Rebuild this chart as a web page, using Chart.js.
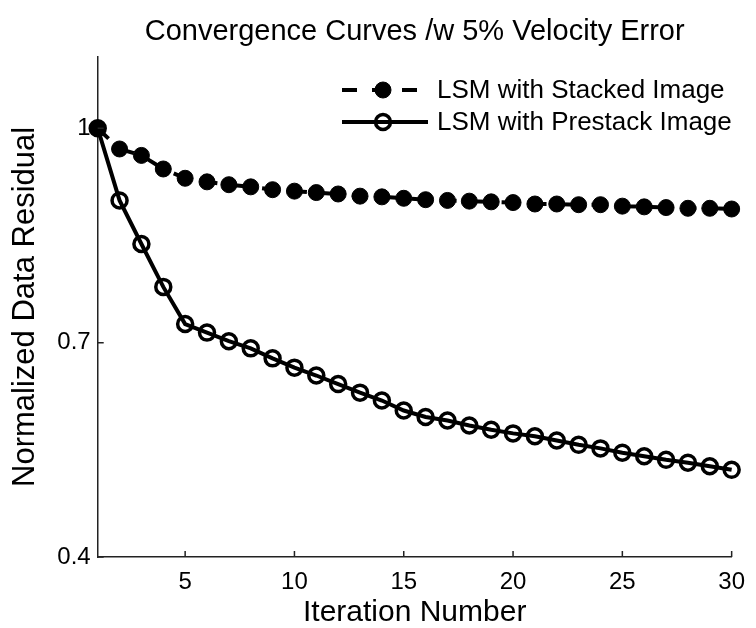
<!DOCTYPE html>
<html>
<head>
<meta charset="utf-8">
<script src="https://cdn.jsdelivr.net/npm/chart.js@4.4.0/dist/chart.umd.min.js"></script>
<style>
  html, body { margin: 0; padding: 0; background: #fff; }
  #wrap { width: 756px; height: 628px; }
</style>
</head>
<body>
<div id="wrap"><canvas id="convChart" width="756" height="628"></canvas></div>
<script>
// valores
const iterations = [1, 2, 3, 4, 5, 6, 7, 8, 9, 10, 11, 12, 13, 14, 15,
                    16, 17, 18, 19, 20, 21, 22, 23, 24, 25, 26, 27, 28, 29, 30];
const stackedResidual = [1.000, 0.971, 0.962, 0.943, 0.930, 0.925, 0.921, 0.918, 0.914, 0.912,
                         0.910, 0.908, 0.905, 0.904, 0.902, 0.900, 0.899, 0.898, 0.897, 0.896,
                         0.894, 0.894, 0.893, 0.893, 0.891, 0.890, 0.889, 0.888, 0.888, 0.887];
const prestackResidual = [1.000, 0.899, 0.838, 0.778, 0.726, 0.714, 0.702, 0.692, 0.678, 0.665,
                          0.654, 0.642, 0.630, 0.619, 0.605, 0.596, 0.591, 0.584, 0.578, 0.573,
                          0.569, 0.563, 0.557, 0.552, 0.546, 0.541, 0.536, 0.532, 0.527, 0.522];
const seriesNames = ['LSM with Stacked Image', 'LSM with Prestack Image'];
const xTicks = [5, 10, 15, 20, 25, 30];
const yTicks = [0.4, 0.7, 1];

const FONT = '"Liberation Sans", Arial, Helvetica, sans-serif';

function toPoints(ys) {
    return iterations.map((x, i) => ({ x: x, y: ys[i] }));
}

// ticks hacia adentro, estilo matlab
const inwardTicks = {
    id: 'inwardTicks',
    afterDraw(chart) {
        const ctx = chart.ctx;
        const xs = chart.scales.x, ys = chart.scales.y;
        ctx.save();
        ctx.strokeStyle = '#222';
        ctx.lineWidth = 1.5;
        ctx.beginPath();
        xTicks.forEach(v => {
            const px = xs.getPixelForValue(v);
            ctx.moveTo(px, ys.bottom);
            ctx.lineTo(px, ys.bottom - 6);
        });
        yTicks.forEach(v => {
            const py = ys.getPixelForValue(v);
            ctx.moveTo(xs.left, py);
            ctx.lineTo(xs.left + 6, py);
        });
        ctx.stroke();
        ctx.restore();
    }
};

// leyenda con linea + marcador (stacked arriba, prestack abajo)
const lineLegend = {
    id: 'lineLegend',
    afterDraw(chart) {
        const ctx = chart.ctx;
        const x0 = 342, x1 = 428;
        const rowOf = { [seriesNames[0]]: 90, [seriesNames[1]]: 122 };
        ctx.save();
        chart.data.datasets.forEach(ds => {
            const y = rowOf[ds.label];
            ctx.strokeStyle = '#000';
            ctx.lineWidth = ds.borderWidth;
            ctx.setLineDash(ds.borderDash || []);
            ctx.beginPath();
            ctx.moveTo(x0, y);
            ctx.lineTo(x1, y);
            ctx.stroke();
            ctx.setLineDash([]);
            const cx = (x0 + x1) / 2 - 2;
            ctx.beginPath();
            ctx.arc(cx, y, ds.pointRadius, 0, Math.PI * 2);
            if (ds.pointBackgroundColor !== 'transparent') {
                ctx.fillStyle = ds.pointBackgroundColor;
                ctx.fill();
            }
            ctx.lineWidth = ds.pointBorderWidth;
            ctx.stroke();
            ctx.fillStyle = '#000';
            ctx.font = '26px ' + FONT;
            ctx.textAlign = 'left';
            ctx.textBaseline = 'middle';
            ctx.fillText(ds.label, 437, y + 1);
        });
        ctx.restore();
    }
};

new Chart(document.getElementById('convChart'), {
    type: 'line',
    data: {
        datasets: [
            {
                label: seriesNames[1],
                data: toPoints(prestackResidual),
                borderColor: '#000',
                borderWidth: 4,
                pointRadius: 7.5,
                pointBorderWidth: 3.5,
                pointBorderColor: '#000',
                pointBackgroundColor: 'transparent',
                tension: 0
            },
            {
                label: seriesNames[0],
                data: toPoints(stackedResidual),
                borderColor: '#000',
                borderWidth: 4,
                borderDash: [15, 15],
                pointRadius: 8,
                pointBorderWidth: 1,
                pointBorderColor: '#000',
                pointBackgroundColor: '#000',
                tension: 0
            }
        ]
    },
    options: {
        responsive: false,
        animation: false,
        events: [],
        clip: false,
        layout: { padding: { left: 0, right: 16, top: 0, bottom: 0 } },
        plugins: {
            legend: { display: false },
            tooltip: { enabled: false },
            title: {
                display: true,
                fullSize: false,
                text: 'Convergence Curves /w 5% Velocity Error',
                color: '#000',
                font: { family: FONT, size: 29, weight: 'normal', lineHeight: 1.2 },
                padding: { top: 15, bottom: 7 }
            }
        },
        scales: {
            x: {
                type: 'linear',
                min: 1,
                max: 30,
                afterBuildTicks: s => { s.ticks = xTicks.map(v => ({ value: v })); },
                afterFit: s => { s.height = 71; },
                grid: { display: false, drawTicks: false },
                border: { display: true, color: '#222', width: 1.5 },
                ticks: {
                    color: '#000',
                    padding: 11,
                    maxRotation: 0,
                    font: { family: FONT, size: 24 }
                },
                title: {
                    display: true,
                    text: 'Iteration Number',
                    color: '#000',
                    font: { family: FONT, size: 30, lineHeight: 1 },
                    padding: { top: 0, bottom: 0 }
                }
            },
            y: {
                min: 0.4,
                max: 1.1,
                afterBuildTicks: s => { s.ticks = yTicks.map(v => ({ value: v })); },
                afterFit: s => { s.width = 97.7; },
                grid: { display: false, drawTicks: false },
                border: { display: true, color: '#222', width: 1.5 },
                ticks: {
                    color: '#000',
                    padding: 7,
                    callback: v => String(v),
                    font: { family: FONT, size: 24 }
                },
                title: {
                    display: true,
                    text: 'Normalized Data Residual',
                    color: '#000',
                    font: { family: FONT, size: 31, lineHeight: 1 },
                    padding: { top: 10, bottom: 0 }
                }
            }
        }
    },
    plugins: [inwardTicks, lineLegend]
});
</script>
</body>
</html>
